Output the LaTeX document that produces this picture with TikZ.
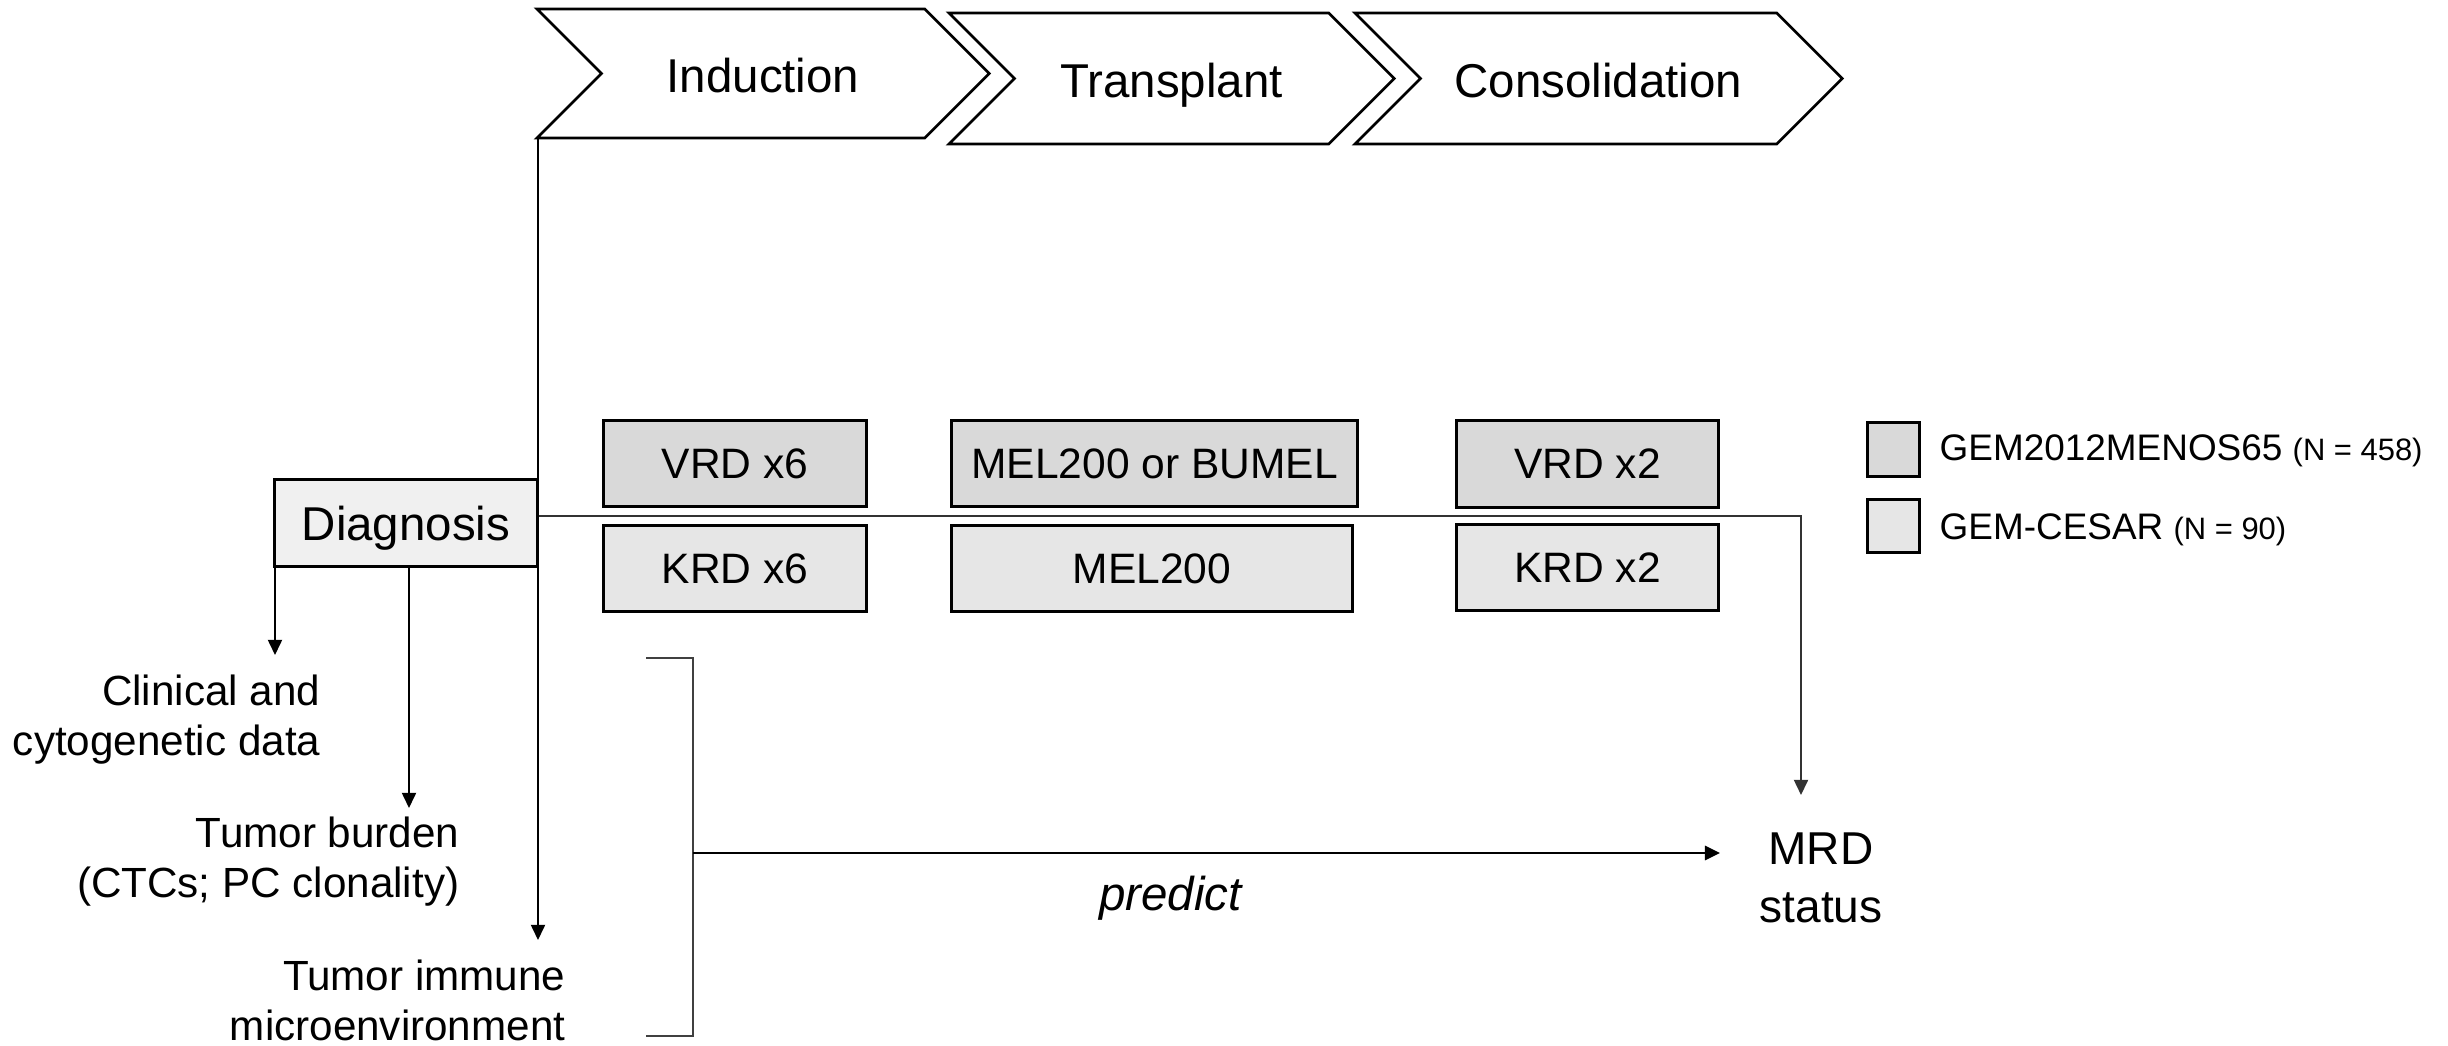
\documentclass[tikz,border=0pt]{standalone}
\usepackage{fontspec}
\setmainfont{Liberation Sans}
\usepackage{tikz}
\usetikzlibrary{positioning,arrows.meta,shapes.symbols}
\definecolor{menosgray}{HTML}{D9D9D9}
\definecolor{cesargray}{HTML}{E6E6E6}
\definecolor{diaggray}{HTML}{F0F0F0}
\tikzstyle{phase} = [
signal,
signal from=west,
signal to=east,
signal pointer angle=90,
inner sep=0pt,
text height=0.38cm,
text depth=0cm,
fill=white,
draw=black,
line width=0.75pt,
font=\fontsize{13.5}{16}\selectfont
]
\tikzstyle{regimen} = [
rectangle,
minimum height=0.86cm,
text centered,
draw=black,
line width=0.85pt,
font=\fontsize{12.1}{14}\selectfont
]
\tikzstyle{menos} = [regimen, fill=menosgray]
\tikzstyle{cesar} = [regimen, fill=cesargray]
\tikzstyle{swatch} = [
rectangle,
minimum width=0.52cm,
minimum height=0.53cm,
draw=black,
line width=0.85pt
]
\tikzstyle{outcome} = [
align=right,
inner sep=0pt,
font=\fontsize{12}{14.2}\selectfont
]
\tikzstyle{arrow} = [
line width=0.5pt,
-{Triangle[length=4.3pt,width=4pt]}
]

\begin{document}
\begin{tikzpicture}[x=0.01cm,y=-0.01cm]
					\useasboundingbox (0,0) rectangle (2448,1045);
					%Nodes
					\node[phase,minimum width=4.52cm,minimum height=1.29cm] (induction) at (763,73.5) {Induction};
					\node[phase,minimum width=4.45cm,minimum height=1.31cm] (transplant) at (1171.5,78.5) {Transplant};
					\node[phase,minimum width=4.87cm,minimum height=1.31cm] (consol) at (1598.5,78.5) {Consolidation};
					\node[regimen,fill=diaggray,minimum width=2.63cm,text height=0.34cm,text depth=0cm,font=\fontsize{13.5}{16}\selectfont] (diag) at (406,523) {Diagnosis};
					\node[menos,minimum width=2.63cm] (vrd6) at (735,463.5) {VRD x6};
					\node[cesar,minimum width=2.63cm] (krd6) at (735,568.5) {KRD x6};
					\node[menos,minimum width=4.06cm] (melbu) at (1154.5,463.5) {MEL200 or BUMEL};
					\node[cesar,minimum width=4.01cm] (mel) at (1152,568.5) {MEL200};
					\node[menos,minimum width=2.62cm] (vrd2) at (1587.5,464) {VRD x2};
					\node[cesar,minimum width=2.62cm] (krd2) at (1587.5,567.5) {KRD x2};
					%Legend
					\node[swatch,fill=menosgray] (sqmenos) at (1893.5,449.5) {};
					\node[swatch,fill=cesargray] (sqcesar) at (1893.5,526) {};
					\node[anchor=base west,inner sep=0pt,font=\fontsize{10.5}{12}\selectfont] (txtmenos) at (1939,460) {GEM2012MENOS65 {\fontsize{8.8}{10}\selectfont (N = 458)}};
					\node[anchor=base west,inner sep=0pt,font=\fontsize{10.5}{12}\selectfont] (txtcesar) at (1939,539) {GEM-CESAR {\fontsize{8.8}{10}\selectfont (N = 90)}};
					%Outcomes
					\node[outcome,anchor=east] (clinical) at (321,720) {Clinical and\\cytogenetic data};
					\node[outcome,anchor=east] (burden) at (460,862) {Tumor burden\\(CTCs; PC clonality)};
					\node[outcome,anchor=east] (immune) at (566,1000) {Tumor immune\\microenvironment};
					\node[align=center,inner sep=0pt,font=\fontsize{13.1}{16.5}\selectfont] (mrd) at (1821,878) {MRD\\status};
					%Coordinates
					\coordinate (tip1) at (275,655);
					\coordinate (tip2) at (409,808);
					\coordinate (tip3) at (538,940);
					\coordinate (turn) at (1801,516);
					\coordinate (mrdin) at (1801,795);
					\coordinate (brmid) at (693,853);
					\coordinate (predtip) at (1720,853);
					%Bracket
					\draw[line width=0.5pt,black!75] (646,658) -- (693,658) -- (693,1036) -- (646,1036);
					%Arrows
					\draw[arrow] (tip3 |- induction.south) -- (tip3);
					\draw[arrow] (diag.south -| tip1) -- (tip1);
					\draw[arrow] (diag.south -| tip2) -- (tip2);
					\draw[arrow,black!80] (diag.east |- turn) -- (turn) -- (mrdin);
					\draw[arrow,line width=0.8pt] (brmid) -- (predtip) node[pos=0.465,below=0.22cm,inner sep=0pt,font=\fontsize{13.5}{16}\itshape] (predict) {predict};
				\end{tikzpicture}
\end{document}
